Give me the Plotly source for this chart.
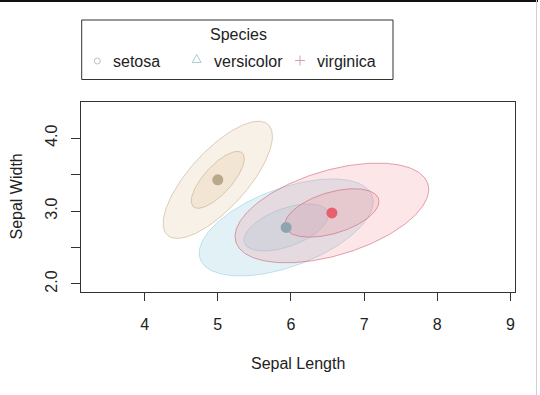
import numpy as np
import plotly.graph_objects as go

# ---- data (iris, Sepal Length vs Sepal Width) ----
species = ["setosa", "versicolor", "virginica"]
mean_sepal_length = [5.00, 5.935, 6.56]
mean_sepal_width = [3.428, 2.775, 2.974]
var_sepal_length = [0.1242, 0.315, 0.390]
var_sepal_width = [0.1437, 0.0985, 0.1040]
cov_length_width = [0.0992, 0.093, 0.0950]
ellipse_radius_inner = [1.03, 1.03, 1.03]
ellipse_radius_outer = [2.12, 2.12, 2.12]

x_ticks = [4, 5, 6, 7, 8, 9]
y_ticks = [2.0, 2.5, 3.0, 3.5, 4.0]
y_tick_text = ["2.0", "", "3.0", "", "4.0"]

# ---- styles ----
fill_colors = ["rgba(222,184,135,0.20)", "rgba(173,216,230,0.35)", "rgba(240,128,140,0.20)"]
line_colors = ["rgba(190,160,120,0.50)", "rgba(130,195,215,0.45)", "rgba(200,90,110,0.55)"]
point_colors = ["#B8A88C", "#8DA5AE", "#E8606E"]
FONT = "Liberation Sans, Arial, sans-serif"
TXT = "#222222"

fig = go.Figure()
t = np.linspace(0, 2 * np.pi, 241)
circle = np.vstack([np.cos(t), np.sin(t)])

for i, sp in enumerate(species):
    cov = np.array([[var_sepal_length[i], cov_length_width[i]],
                    [cov_length_width[i], var_sepal_width[i]]])
    L = np.linalg.cholesky(cov)
    for r in (ellipse_radius_outer[i], ellipse_radius_inner[i]):
        pts = r * (L @ circle)
        fig.add_trace(go.Scatter(
            x=mean_sepal_length[i] + pts[0], y=mean_sepal_width[i] + pts[1],
            mode="lines", fill="toself", fillcolor=fill_colors[i],
            line=dict(color=line_colors[i], width=1),
            hoverinfo="skip", showlegend=False))

for i, sp in enumerate(species):
    fig.add_trace(go.Scatter(
        x=[mean_sepal_length[i]], y=[mean_sepal_width[i]], mode="markers",
        marker=dict(size=11, color=point_colors[i], line=dict(width=0)),
        name=sp, showlegend=False))

# ---- layout geometry (pixels -> paper) ----
W, H = 540, 395
ML, MR, MT, MB = 81, 25, 102, 103
PW, PH = W - ML - MR, H - MT - MB


def X(px):
    return (px - ML) / PW


def Y(py):
    return (H - MB - py) / PH


shapes = []
# legend box
shapes.append(dict(type="rect", xref="paper", yref="paper",
                   x0=X(81.7), x1=X(393), y0=Y(79.5), y1=Y(20),
                   line=dict(color="#333333", width=1), fillcolor="rgba(0,0,0,0)"))
# legend symbols
shapes.append(dict(type="circle", xref="paper", yref="paper",
                   x0=X(94.3), x1=X(100.3), y0=Y(64), y1=Y(58),
                   line=dict(color="#C8BFB2", width=1)))
shapes.append(dict(type="path", xref="paper", yref="paper",
                   path=f"M {X(192.3)},{Y(62.5)} L {X(201.1)},{Y(62.5)} L {X(196.7)},{Y(54.5)} Z",
                   line=dict(color="#A8CCCC", width=1)))
shapes.append(dict(type="path", xref="paper", yref="paper",
                   path=f"M {X(295)},{Y(60.5)} L {X(305)},{Y(60.5)} M {X(300)},{Y(55.5)} L {X(300)},{Y(65.5)}",
                   line=dict(color="#D6A0A8", width=1)))

annotations = [
    dict(text="Species", x=X(238), y=Y(34.5), xref="paper", yref="paper",
         xanchor="center", yanchor="middle", showarrow=False,
         font=dict(family=FONT, size=16, color=TXT)),
    dict(text="setosa", x=X(111), y=Y(61), xref="paper", yref="paper",
         xanchor="left", yanchor="middle", showarrow=False,
         font=dict(family=FONT, size=16, color=TXT)),
    dict(text="versicolor", x=X(212), y=Y(61), xref="paper", yref="paper",
         xanchor="left", yanchor="middle", showarrow=False,
         font=dict(family=FONT, size=16, color=TXT)),
    dict(text="virginica", x=X(314.5), y=Y(61), xref="paper", yref="paper",
         xanchor="left", yanchor="middle", showarrow=False,
         font=dict(family=FONT, size=16, color=TXT)),
    dict(text="Sepal Length", x=0.5, y=Y(363), xref="paper", yref="paper",
         xanchor="center", yanchor="middle", showarrow=False,
         font=dict(family=FONT, size=16, color=TXT)),
    dict(text="Sepal Width", x=X(15.5), y=0.5, xref="paper", yref="paper",
         xanchor="center", yanchor="middle", showarrow=False, textangle=-90,
         font=dict(family=FONT, size=16, color=TXT)),
]

fig.update_layout(
    width=W, height=H,
    margin=dict(l=ML, r=MR, t=MT, b=MB),
    paper_bgcolor="white", plot_bgcolor="white",
    showlegend=False,
    shapes=shapes, annotations=annotations,
    xaxis=dict(range=[3.13, 9.063], tickvals=x_ticks, ticks="outside", ticklen=8,
               tickcolor="#333333", tickwidth=1, showline=True, mirror=True,
               linecolor="#333333", linewidth=1, showgrid=False, zeroline=False,
               ticklabelstandoff=10,
               tickfont=dict(family=FONT, size=16, color=TXT)),
    yaxis=dict(range=[1.89, 4.495], tickvals=y_ticks, ticktext=y_tick_text,
               ticks="outside", ticklen=9, tickangle=-90,
               tickcolor="#333333", tickwidth=1, showline=True, mirror=True,
               linecolor="#333333", linewidth=1, showgrid=False, zeroline=False,
               ticklabelstandoff=8,
               tickfont=dict(family=FONT, size=16, color=TXT)),
)

# page setup: no body margin; thin screenshot frame lines (top black, right grey)
post = (
    "document.body.style.margin='0';"
    "document.body.style.overflow='hidden';"
    "var a=document.createElement('div');"
    "a.style.cssText='position:fixed;left:0;top:0;width:538px;height:2px;background:#111;';"
    "document.body.appendChild(a);"
    "var b=document.createElement('div');"
    "b.style.cssText='position:fixed;left:536px;top:0;width:1px;height:395px;background:#d0d0d0;';"
    "document.body.appendChild(b);"
)
fig.write_html("out.html", config={"displayModeBar": False}, post_script=post)
